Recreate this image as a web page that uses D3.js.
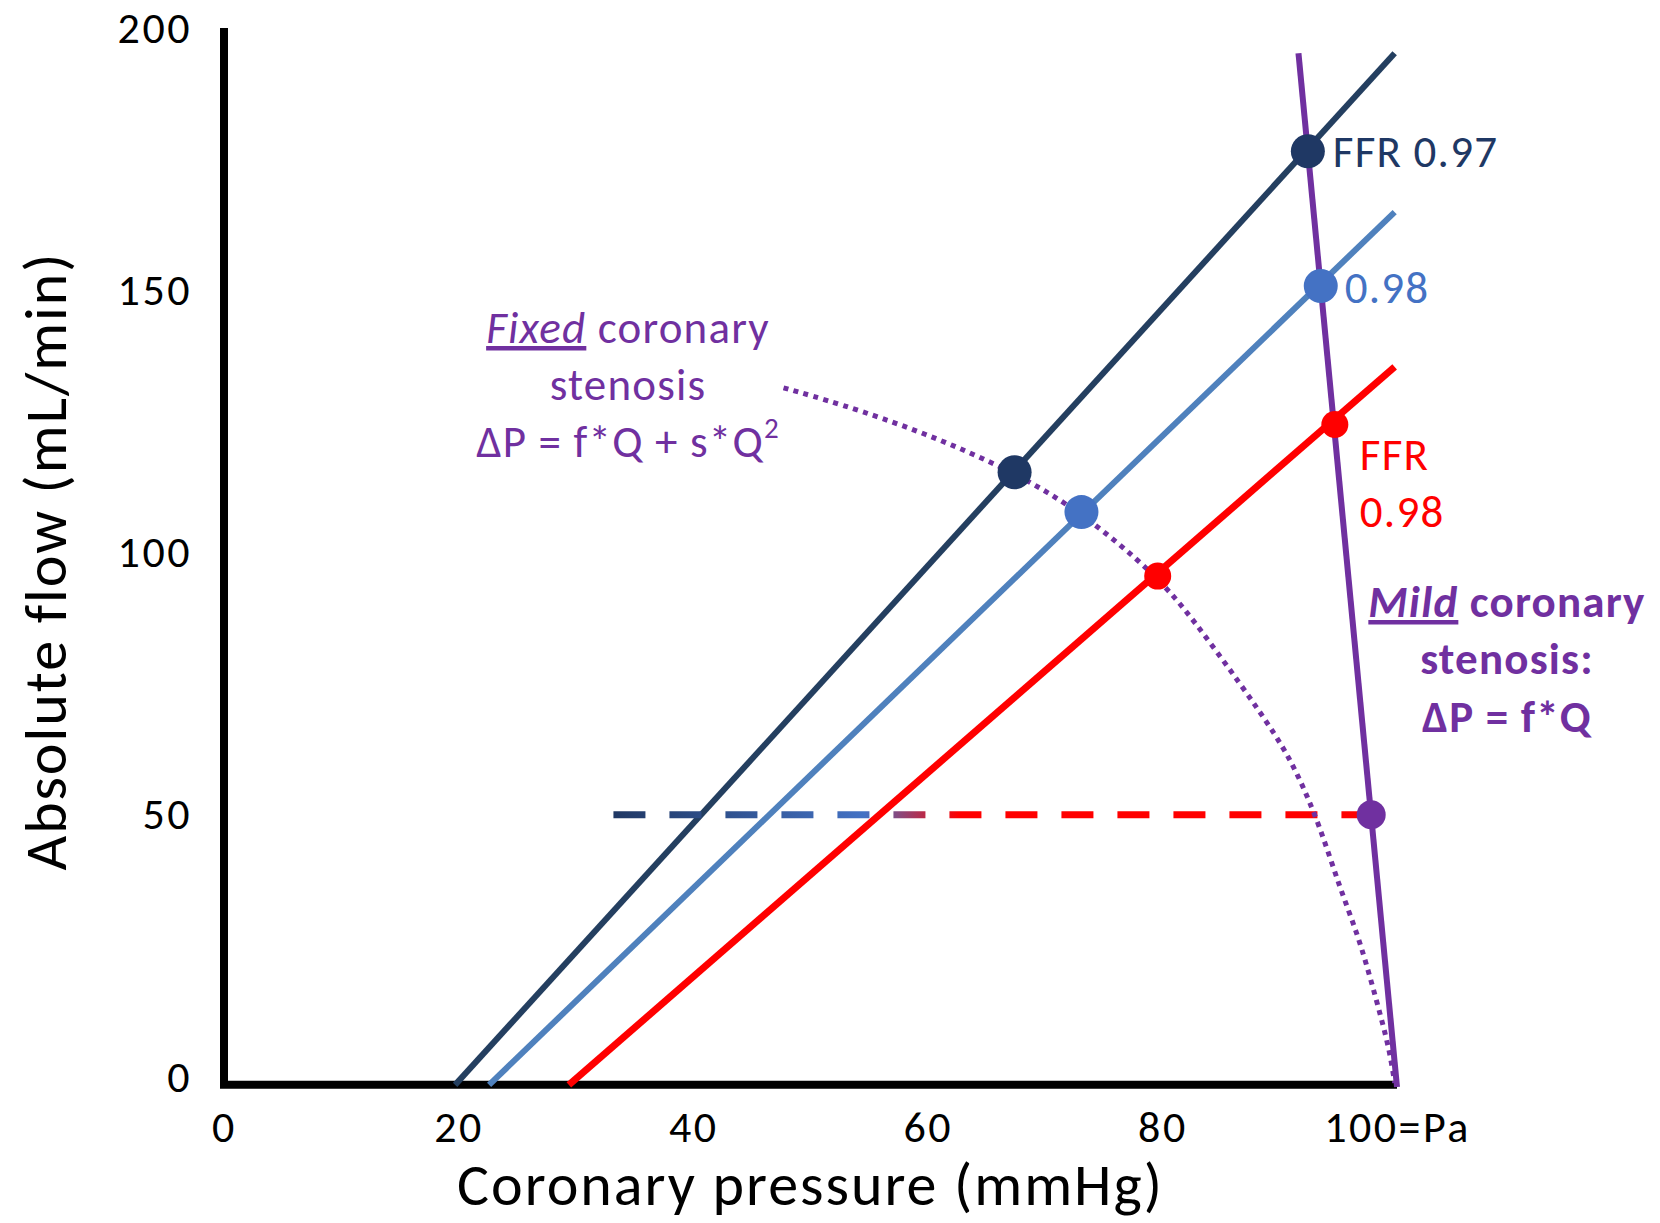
<!DOCTYPE html>
<html>
<head>
<meta charset="utf-8">
<script src="https://cdn.jsdelivr.net/npm/d3@7"></script>
<style>
  body { margin: 0; background: #fff; }
  text { font-family: Carlito, Calibri, Lato, "Open Sans", sans-serif; }
</style>
</head>
<body>
<svg id="chart" width="1660" height="1223"></svg>
<script>
// axis ticks
var pressureTicks = [0, 20, 40, 60, 80, 100];
var flowTicks = [0, 50, 100, 150, 200];
var baseFlow = -1.5; // the drawn x axis sits a hair under Q = 0

// pressure-flow lines [pressure, flow]
var navyLine = [[19.7, -1.5], [99.8, 195.2]];
var blueLine = [[22.6, -1.5], [99.8, 164.9]];
var redLine = [[29.4, -1.5], [99.8, 135.4]];
var mildLine = [[91.6, 195.2], [100, -1.9]];
var fixedCurve = [[47.7, 131.4], [52.3, 128.5], [59.8, 122.8], [67.4, 115.3], [73.1, 107.7],
  [79.6, 95.5], [82.8, 86.7], [86.6, 75.1], [89.8, 64.8], [91.5, 58.0], [93.4, 48.0],
  [95.1, 36.2], [96.6, 27.5], [97.7, 19.1], [98.7, 10.9], [99.4, 4.6], [99.8, -1.1]];

// intersections
var mildPoints = [[92.4, 176.5], [93.5, 150.8], [94.7, 124.4]];
var fixedPoints = [[67.4, 115.3], [73.1, 107.7], [79.6, 95.5]];
var restPoint = [97.8, 50];
var restStart = 33.2;
var restGradient = [[33.2, '#203864'], [54.6, '#4472C4'], [62.7, '#FF0000']];

var svg = d3.select('#chart');
svg.append('rect').attr('width', 1660).attr('height', 1223).attr('fill', '#fff');

var x = d3.scaleLinear().domain([0, 100]).range([224, 1397]);
var y = d3.scaleLinear().domain([0, 200]).range([1077, 28]);

var line = d3.line().x(function(d) { return x(d[0]); }).y(function(d) { return y(d[1]); });

// gradient for the resting-flow dashes
var grad = svg.append('defs').append('linearGradient')
  .attr('id', 'restGrad').attr('gradientUnits', 'userSpaceOnUse')
  .attr('x1', x(restGradient[0][0])).attr('x2', x(restGradient[2][0]))
  .attr('y1', 0).attr('y2', 0);
restGradient.forEach(function(s) {
  grad.append('stop')
    .attr('offset', (s[0] - restGradient[0][0]) / (restGradient[2][0] - restGradient[0][0]))
    .attr('stop-color', s[1]);
});

// axes: labels from d3, heavy lines drawn by hand
var yAxis = svg.append('g').attr('transform', 'translate(' + x(0) + ',0)')
  .call(d3.axisLeft(y).tickValues(flowTicks).tickSize(0).tickPadding(32));
var xAxis = svg.append('g').attr('transform', 'translate(0,' + y(baseFlow) + ')')
  .call(d3.axisBottom(x).tickValues(pressureTicks).tickSize(0).tickPadding(26)
    .tickFormat(function(d) { return d === 100 ? '100=Pa' : d; }));
[yAxis, xAxis].forEach(function(g) {
  g.select('.domain').remove();
  g.selectAll('text').attr('font-size', 44).attr('fill', '#000')
    .style('letter-spacing', '2.5px')
    .style('font-family', 'Carlito, Calibri, Lato, sans-serif');
});

svg.append('path')
  .attr('d', 'M' + x(0) + ',' + y(200) + 'V' + y(baseFlow) + 'H' + x(100))
  .attr('fill', 'none').attr('stroke', '#000').attr('stroke-width', 8)
  .attr('stroke-linejoin', 'miter');

svg.append('text').attr('x', (x(0) + x(100)) / 2).attr('y', 1205)
  .attr('text-anchor', 'middle').attr('font-size', 60).style('letter-spacing', '2px')
  .text('Coronary pressure (mmHg)');
svg.append('text').attr('transform', 'translate(66,561) rotate(-90)')
  .attr('text-anchor', 'middle').attr('font-size', 60).style('letter-spacing', '2px')
  .text('Absolute flow (mL/min)');

// FFR lines
[[navyLine, '#243F60', 6], [blueLine, '#4F81BD', 6], [redLine, '#FF0000', 7]].forEach(function(l) {
  svg.append('path').datum(l[0]).attr('d', line)
    .attr('fill', 'none').attr('stroke', l[1]).attr('stroke-width', l[2]);
});

// mild stenosis line
svg.append('path').datum(mildLine).attr('d', line)
  .attr('fill', 'none').attr('stroke', '#7030A0').attr('stroke-width', 6);

// resting flow dashes
svg.append('path').datum([[restStart, restPoint[1]], restPoint]).attr('d', line)
  .attr('fill', 'none').attr('stroke', 'url(#restGrad)').attr('stroke-width', 7)
  .attr('stroke-dasharray', '32,24');

// fixed stenosis curve
var curveLine = d3.line().curve(d3.curveBasis)
  .x(function(d) { return x(d[0]); }).y(function(d) { return y(d[1]); });
svg.append('path').datum(fixedCurve).attr('d', curveLine)
  .attr('fill', 'none').attr('stroke', '#7030A0').attr('stroke-width', 5)
  .attr('stroke-dasharray', '5,5.4');

// dots
var dotColors = ['#1F3864', '#4472C4', '#FF0000'];
var dotR = [17, 17, 13.5];
svg.selectAll('.mildDot').data(mildPoints).enter().append('circle')
  .attr('cx', function(d) { return x(d[0]); }).attr('cy', function(d) { return y(d[1]); })
  .attr('r', function(d, i) { return dotR[i]; }).attr('fill', function(d, i) { return dotColors[i]; });
svg.selectAll('.fixedDot').data(fixedPoints).enter().append('circle')
  .attr('cx', function(d) { return x(d[0]); }).attr('cy', function(d) { return y(d[1]); })
  .attr('r', function(d, i) { return dotR[i]; }).attr('fill', function(d, i) { return dotColors[i]; });
svg.append('circle').attr('cx', x(restPoint[0])).attr('cy', y(restPoint[1]))
  .attr('r', 14.5).attr('fill', '#7030A0');

// FFR labels next to the hyperaemic points
var fs = 45, ls = '1.2px';
svg.append('text').attr('x', x(mildPoints[0][0]) + 25).attr('y', y(mildPoints[0][1]) + 16)
  .attr('font-size', fs).style('letter-spacing', ls).attr('fill', '#1F3864').text('FFR 0.97');
svg.append('text').attr('x', x(mildPoints[1][0]) + 24).attr('y', y(mildPoints[1][1]) + 17)
  .attr('font-size', fs).style('letter-spacing', ls).attr('fill', '#4472C4').text('0.98');
var redLbl = svg.append('text').attr('font-size', fs).style('letter-spacing', ls).attr('fill', '#FF0000');
redLbl.append('tspan').attr('x', x(mildPoints[2][0]) + 25).attr('y', y(mildPoints[2][1]) + 45).text('FFR');
redLbl.append('tspan').attr('x', x(mildPoints[2][0]) + 25).attr('y', y(mildPoints[2][1]) + 102).text('0.98');

// fixed stenosis annotation
var fixedTxt = svg.append('text').attr('font-size', fs).style('letter-spacing', ls)
  .attr('fill', '#7030A0').attr('text-anchor', 'middle');
var t1 = fixedTxt.append('tspan').attr('x', 628).attr('y', 343);
t1.append('tspan').attr('font-style', 'italic').attr('text-decoration', 'underline').text('Fixed');
t1.append('tspan').text(' coronary');
fixedTxt.append('tspan').attr('x', 628).attr('y', 400).text('stenosis');
var t3 = fixedTxt.append('tspan').attr('x', 628).attr('y', 457).text('\u0394P = f*Q + s*Q');
t3.append('tspan').attr('font-size', 29).attr('dy', -19).text('2');

// mild stenosis annotation
var mildTxt = svg.append('text').attr('font-size', fs).style('letter-spacing', ls)
  .attr('font-weight', 'bold').attr('fill', '#7030A0').attr('text-anchor', 'middle');
var m1 = mildTxt.append('tspan').attr('x', 1507).attr('y', 617);
m1.append('tspan').attr('font-style', 'italic').attr('text-decoration', 'underline').text('Mild');
m1.append('tspan').text(' coronary');
mildTxt.append('tspan').attr('x', 1507).attr('y', 674).text('stenosis:');
mildTxt.append('tspan').attr('x', 1507).attr('y', 732).text('\u0394P = f*Q');
</script>
</body>
</html>
